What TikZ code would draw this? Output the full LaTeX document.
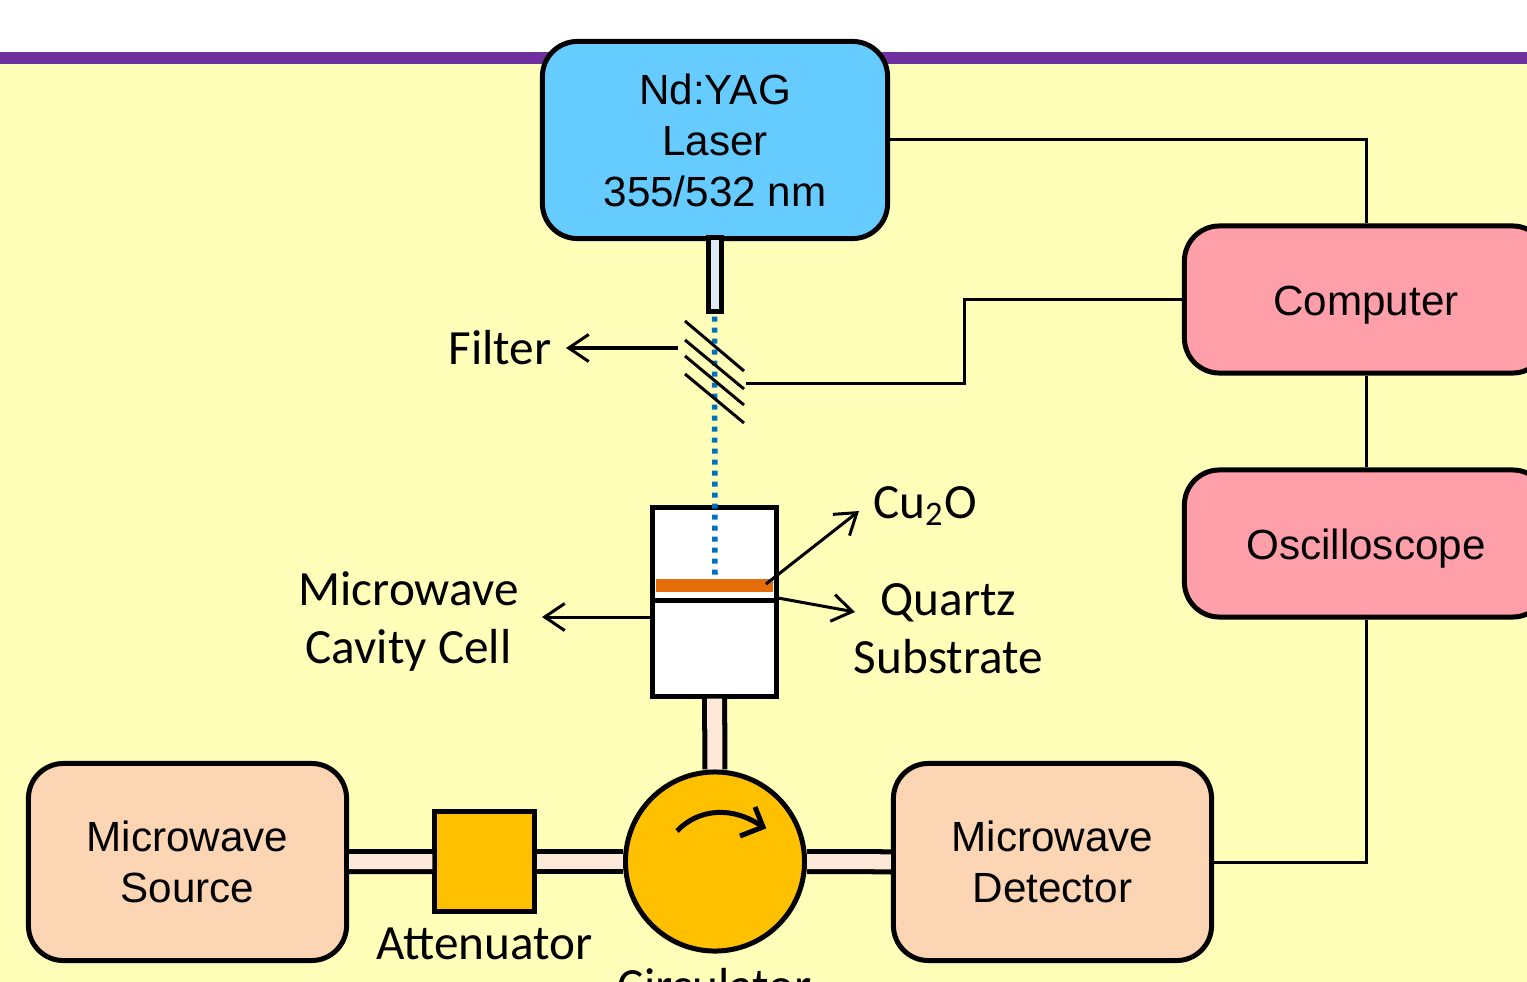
\documentclass[tikz,border=0pt]{standalone}
\usepackage{fontspec}
\setmainfont{Carlito}
\newfontfamily\arialfont{Liberation Sans}
\usetikzlibrary{arrows.meta}
\definecolor{slidebg}{HTML}{FFFFB9}
\definecolor{slidebar}{HTML}{7030A0}
\definecolor{laserblue}{HTML}{66CCFF}
\definecolor{scopepink}{HTML}{FF9FA9}
\definecolor{mwpeach}{HTML}{FCD5B5}
\definecolor{guidepale}{HTML}{FDE9D9}
\definecolor{partamber}{HTML}{FFC000}
\definecolor{beamblue}{HTML}{0070C0}
\definecolor{filmorange}{HTML}{E46C0A}
\definecolor{tubepale}{HTML}{DEEBF7}
\begin{document}
\begin{tikzpicture}[x=0.01cm,y=-0.01cm,>={Straight Barb[length=0.2cm,width=0.27cm]},
		unit/.style={draw,line width=0.05cm,rounded corners=0.35cm,inner sep=0pt,align=center,font=\fontsize{12}{14.5}\selectfont\arialfont},
		part/.style={draw,line width=0.05cm,inner sep=0pt,fill=partamber},
		guide/.style={line width=0.05cm,double=guidepale,double distance=0.15cm},
		wire/.style={line width=0.03cm},
		tag/.style={align=center,inner sep=0pt,font=\fontsize{14}{16.5}\selectfont}]
	\useasboundingbox (0,0) rectangle (1527,982);
	\clip (0,0) rectangle (1527,982);
	\fill[white] (0,0) rectangle (1527,982);
	\fill[slidebg] (0,64) rectangle (1527,982);
	\fill[slidebar] (0,52) rectangle (1527,64);

	\node[unit,fill=laserblue,minimum width=3.45cm,minimum height=1.97cm] (laser) at (715,140) {Nd:YAG\\Laser\\355/532 nm};
	\node[unit,fill=scopepink,minimum width=3.63cm,minimum height=1.47cm,text height=0.40cm,text depth=0.09cm] (computer) at (1366,299.5) {Computer};
	\node[unit,fill=scopepink,minimum width=3.63cm,minimum height=1.47cm,text height=0.40cm,text depth=0.09cm] (scope) at (1366,543.5) {Oscilloscope};
	\node[unit,fill=mwpeach,minimum width=3.18cm,minimum height=1.97cm] (source) at (187.5,862) {Microwave\\Source};
	\node[unit,fill=mwpeach,minimum width=3.18cm,minimum height=1.97cm] (detector) at (1052.5,862) {Microwave\\Detector};
	\node[part,minimum width=0.99cm,minimum height=0.99cm] (attenuator) at (484.5,861.5) {};
	\node[part,circle,minimum size=1.79cm] (circulator) at (715,861.5) {};
	\node[draw,line width=0.05cm,fill=white,inner sep=0pt,minimum width=1.23cm,minimum height=1.88cm] (cell) at (714.5,602) {};
	\node[draw,line width=0.05cm,fill=tubepale,inner sep=0pt,minimum width=0.13cm,minimum height=0.73cm] (tube) at (714.5,274.5) {};

	\draw[guide] (source) -- (attenuator);
	\draw[guide] (attenuator) -- (circulator);
	\draw[guide] (circulator) -- (detector);
	\draw[guide] (cell) -- (circulator);

	\coordinate (filterwire) at (746,383);
	\coordinate (filterleft) at (678,348);
	\coordinate (filtertip) at (566,348);
	\coordinate (cellleft) at (653,617);
	\coordinate (celltip) at (542,617);
	\coordinate (filmstart) at (766,584);
	\coordinate (filmtip) at (859,511);
	\coordinate (quartzstart) at (778,598);
	\coordinate (quartztip) at (855,612);
	\coordinate (beamend) at (715,578);

	\draw[wire] (laser.east) -| (computer.north);
	\draw[wire] (computer) -- (scope);
	\draw[wire] (scope.south) |- (detector.east);
	\draw[wire] (computer.west) -- (964,299.5) -- (964,383) -- (filterwire);

	\fill[filmorange] (656,579) rectangle (773,592);
	\draw[line width=0.05cm] (cell.west |- 0,600) -- (cell.east |- 0,600);
	\draw[beamblue,line width=0.055cm,dash pattern=on 0.05cm off 0.06cm] (tube.south) ++(0,3) -- (beamend);

	\draw[wire] (685,321) -- (744,371);
	\draw[wire] (685,340) -- (744,389);
	\draw[wire] (685,356) -- (744,405);
	\draw[wire] (685,374) -- (744,423);

	\draw[wire,->] (filterleft) -- (filtertip);
	\draw[wire,->] (cellleft) -- (celltip);
	\draw[wire,->] (filmstart) -- (filmtip);
	\draw[wire,->] (quartzstart) -- (quartztip);

	\draw[line width=0.05cm] (677,831) .. controls (698,809) and (732,805) .. (763,827);
	\draw[line width=0.05cm] (755,807) -- (763,827) -- (740,836);

	\node[tag] (filter) at (500,348) {Filter};
	\node[tag] (cu) at (925,506) {Cu\textsubscript{2}O};
	\node[tag] (quartz) at (948.5,629) {Quartz\\Substrate};
	\node[tag] (cavity) at (408.5,622) {Microwave\\Cavity Cell};
	\node[tag] (attenlabel) at (484.5,944) {Attenuator};
	\node[tag] (circlabel) at (715,986) {Circulator};
\end{tikzpicture}
\end{document}
